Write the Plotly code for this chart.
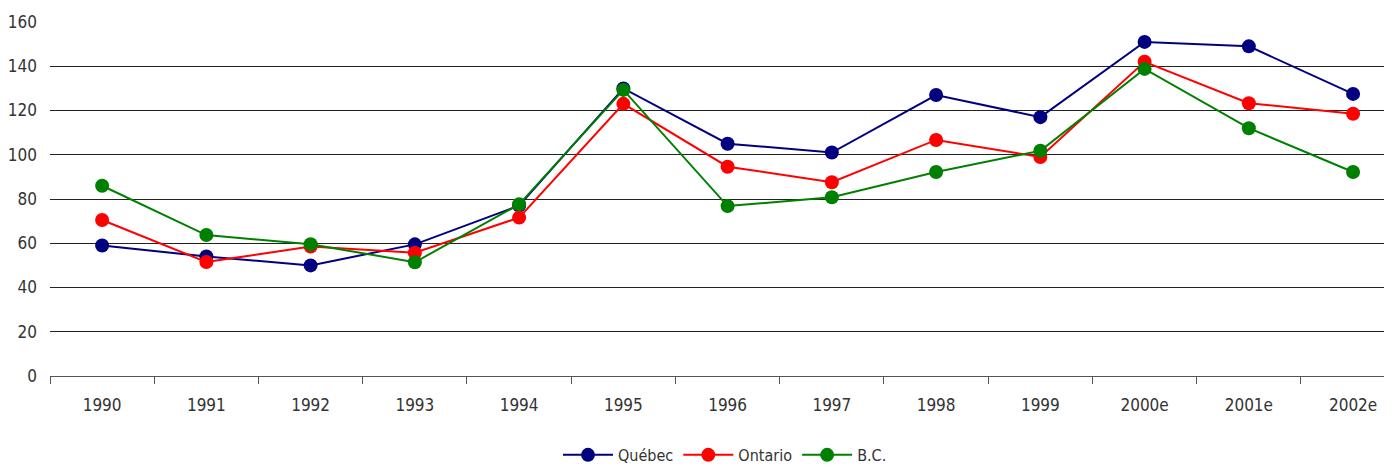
import plotly.graph_objects as go

years = ["1990", "1991", "1992", "1993", "1994", "1995", "1996", "1997", "1998", "1999", "2000e", "2001e", "2002e"]
quebec = [59, 54, 50, 59.5, 77, 130, 105, 101, 127, 117, 151, 149, 127.5]
ontario = [70.5, 51.5, 58.5, 55.7, 71.6, 123, 94.6, 87.6, 106.7, 99, 142, 123.3, 118.5]
bc = [86, 63.7, 59.6, 51.4, 77.6, 129.3, 76.8, 80.8, 92.2, 101.8, 138.8, 112, 92.2]

series = [("Québec", quebec, "#000080"), ("Ontario", ontario, "#ff0000"), ("B.C.", bc, "#008000")]

FONT = "DejaVu Sans Condensed, Liberation Sans Narrow, Arial Narrow, Liberation Sans, sans-serif"

fig = go.Figure()
for name, vals, col in series:
    fig.add_trace(go.Scatter(
        x=years, y=vals, name=name, mode="lines+markers",
        line=dict(color=col, width=2),
        marker=dict(color=col, size=14),
    ))

fig.update_layout(
    width=1392, height=470,
    margin=dict(l=42, r=0, t=14, b=102),
    paper_bgcolor="white", plot_bgcolor="white",
    font=dict(family=FONT, size=16, color="#333333"),
    showlegend=True,
    legend=dict(orientation="h", x=0.5, xanchor="center", y=-0.175, yanchor="top",
                font=dict(size=16, color="#333333"), itemwidth=50),
    xaxis=dict(
        type="category", range=[-0.5, 12.45], automargin=False,
        showline=True, linecolor="#555555", linewidth=1,
        ticks="outside", tickson="boundaries", ticklen=7, tickcolor="#555555",
        showgrid=False, zeroline=False, ticklabelstandoff=14,
        tickfont=dict(size=17),
    ),
    yaxis=dict(
        range=[0, 160], dtick=20, automargin=False,
        showgrid=True, gridcolor="#222222", gridwidth=1,
        zeroline=False, showline=False,
        ticks="", ticklabelstandoff=12,
        tickfont=dict(size=17),
    ),
)

fig.write_html("out.html")
